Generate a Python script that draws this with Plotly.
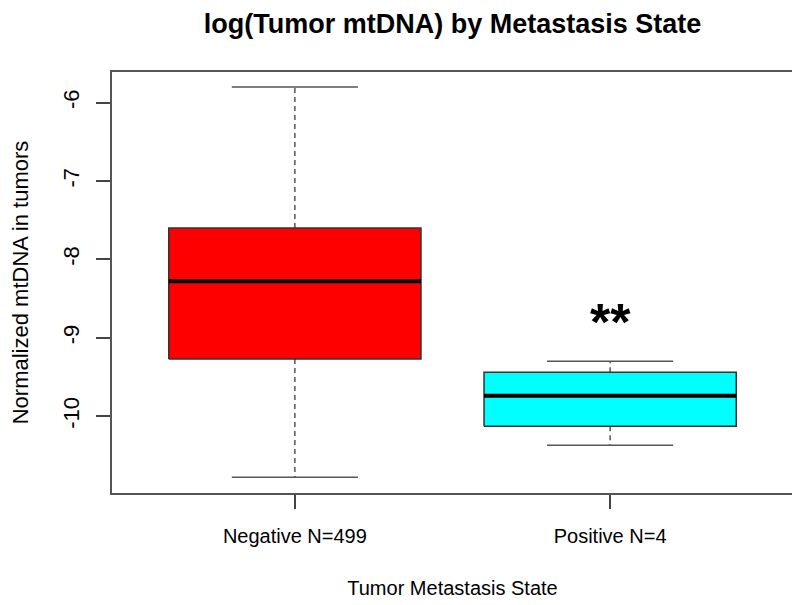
import plotly.graph_objects as go

# ---- data ----
categories = ["Negative N=499", "Positive N=4"]
positions = [1, 2]
upper_whisker = [-5.80, -9.30]
q3_values = [-7.60, -9.44]
medians = [-8.28, -9.74]
q1_values = [-9.27, -10.13]
lower_whisker = [-10.78, -10.37]
box_colors = ["#FF0000", "#00FFFF"]
y_ticks = [-10, -9, -8, -7, -6]
y_tick_labels = ["-10", "-9", "-8", "-7", "-6"]
signif_label = "**"
signif_y = -8.80

# ---- styles ----
BOX_HALF = 0.4
CAP_HALF = 0.2
FONT = "Liberation Sans, Arial, sans-serif"
LINE_COL = "#333333"
W, H = 792, 597  # page body has an 8px margin inside the 800x605 window

fig = go.Figure()
for i, p in enumerate(positions):
    # whiskers (dashed)
    fig.add_trace(go.Scatter(x=[p, p], y=[q3_values[i], upper_whisker[i]], mode="lines",
                             line=dict(color="#555555", width=1.5, dash="5px,4px"),
                             showlegend=False, hoverinfo="skip"))
    fig.add_trace(go.Scatter(x=[p, p], y=[q1_values[i], lower_whisker[i]], mode="lines",
                             line=dict(color="#555555", width=1.5, dash="5px,4px"),
                             showlegend=False, hoverinfo="skip"))
    # caps
    for yv in (upper_whisker[i], lower_whisker[i]):
        fig.add_trace(go.Scatter(x=[p - CAP_HALF, p + CAP_HALF], y=[yv, yv], mode="lines",
                                 line=dict(color="#555555", width=1.5),
                                 showlegend=False, hoverinfo="skip"))
    # box
    fig.add_trace(go.Scatter(
        x=[p - BOX_HALF, p + BOX_HALF, p + BOX_HALF, p - BOX_HALF, p - BOX_HALF],
        y=[q1_values[i], q1_values[i], q3_values[i], q3_values[i], q1_values[i]],
        mode="lines", fill="toself", fillcolor=box_colors[i],
        line=dict(color=LINE_COL, width=1.5), showlegend=False, hoverinfo="skip"))
    # median
    fig.add_trace(go.Scatter(x=[p - BOX_HALF, p + BOX_HALF], y=[medians[i], medians[i]],
                             mode="lines", line=dict(color="black", width=4),
                             showlegend=False, hoverinfo="skip"))

fig.add_annotation(x=positions[1], y=signif_y, text="<b>" + signif_label + "</b>", showarrow=False,
                   font=dict(family=FONT, size=52, color="black"),
                   xref="x", yref="y", yanchor="middle")

fig.update_layout(
    width=W, height=H,
    margin=dict(l=104, r=7, t=64, b=112, autoexpand=False),
    paper_bgcolor="white", plot_bgcolor="white",
    font=dict(family=FONT, size=20, color="black"),
    title=dict(text="<b>log(Tumor mtDNA) by Metastasis State</b>",
               x=(104 + 785) / 2 / W, xanchor="center",
               y=1 - 16 / H, yanchor="middle", yref="container",
               font=dict(family=FONT, size=27, color="black")),
)
fig.update_xaxes(
    range=[0.42, 2.58], tickvals=positions, ticktext=categories, automargin=False,
    showgrid=False, zeroline=False, showline=True, linecolor="#555555", linewidth=1.5,
    mirror=True, ticks="outside", ticklen=14, tickcolor="#444444", tickwidth=1.5,
    ticklabelstandoff=10, tickfont=dict(size=20),
    title=dict(text="Tumor Metastasis State", standoff=35, font=dict(size=20)),
)
fig.update_yaxes(
    range=[-10.98, -5.61], tickvals=y_ticks, ticktext=y_tick_labels, tickangle=-90,
    automargin=False,
    showgrid=False, zeroline=False, showline=True, linecolor="#555555", linewidth=1.5,
    mirror=True, ticks="outside", ticklen=14, tickcolor="#444444", tickwidth=1.5,
    ticklabelstandoff=8, tickfont=dict(size=22),
    title=dict(text="Normalized mtDNA in tumors", standoff=28, font=dict(size=22)),
)

fig.write_html("out.html")
